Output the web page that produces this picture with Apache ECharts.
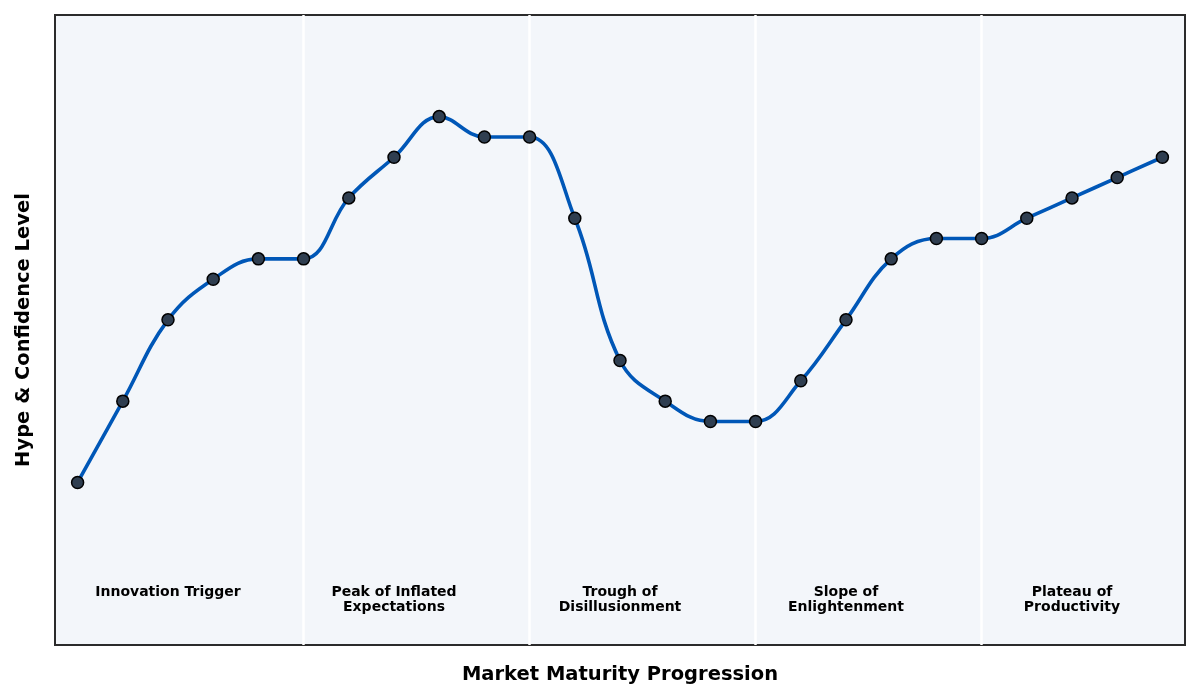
<!DOCTYPE html>
<html>
<head>
<meta charset="utf-8">
<script src="https://cdn.jsdelivr.net/npm/echarts@6/dist/echarts.min.js"></script>
<style>html,body{margin:0;padding:0;background:#fff;}#c{width:1200px;height:700px;}</style>
</head>
<body>
<div id="c"></div>
<script>
const steps = [0,1,2,3,4,5,6,7,8,9,10,11,12,13,14,15,16,17,18,19,20,21,22,23,24];
const hype = [40,60,80,90,95,95,110,120,130,125,125,105,70,60,55,55,65,80,95,100,100,105,110,115,120];
const phaseBoundaries = [5,10,15,20];
const phaseNames = ['Innovation Trigger','Peak of Inflated\nExpectations','Trough of\nDisillusionment','Slope of\nEnlightenment','Plateau of\nProductivity'];
const phaseCenters = [2,7,12,17,22];
const phaseLabelLevel = 14.8;

const chart = echarts.init(document.getElementById('c'));
chart.setOption({
  animation: false,
  textStyle: {fontFamily: 'DejaVu Sans'},
  grid: {left: 55, right: 15, top: 15, bottom: 55, show: true, backgroundColor: '#f3f6fa', borderColor: '#2b2b2b', borderWidth: 2},
  xAxis: {
    type: 'value', min: -0.5, max: 24.5,
    name: 'Market Maturity Progression', nameLocation: 'middle', nameGap: 20,
    nameTextStyle: {fontSize: 19.5, fontWeight: 'bold', color: '#000', fontFamily: 'DejaVu Sans'},
    axisLine: {show: false}, axisTick: {show: false}, axisLabel: {show: false}, splitLine: {show: false}
  },
  yAxis: {
    type: 'value', min: 0, max: 155,
    name: 'Hype & Confidence Level', nameLocation: 'middle', nameGap: 21,
    nameTextStyle: {fontSize: 19.5, fontWeight: 'bold', color: '#000', fontFamily: 'DejaVu Sans'},
    axisLine: {show: false}, axisTick: {show: false}, axisLabel: {show: false}, splitLine: {show: false}
  },
  series: [
    {
      type: 'line', data: [], z: 1, silent: true,
      markLine: {
        z: 1, symbol: 'none', silent: true, label: {show: false},
        lineStyle: {color: '#ffffff', width: 2.5, type: 'solid'},
        emphasis: {disabled: true},
        data: phaseBoundaries.map(b => ({xAxis: b}))
      }
    },
    {
      type: 'line', z: 10,
      data: steps.map((s, i) => [s, hype[i]]),
      smooth: 0.4,
      lineStyle: {color: '#0057b7', width: 3.6},
      symbol: 'circle', symbolSize: 12,
      itemStyle: {color: '#2f3e50', borderColor: '#000', borderWidth: 1.5}
    },
    {
      type: 'scatter', z: 11, symbolSize: 0, silent: true,
      itemStyle: {color: '#000', opacity: 1},
      data: phaseCenters.map((c, i) => ({value: [c, phaseLabelLevel], label: {formatter: phaseNames[i]}})),
      label: {show: true, position: 'bottom', distance: 0, align: 'center',
        fontSize: 14, fontWeight: 'bold', color: '#000', textBorderWidth: 0, lineHeight: 15, fontFamily: 'DejaVu Sans'}
    }
  ]
});
</script>
</body>
</html>
